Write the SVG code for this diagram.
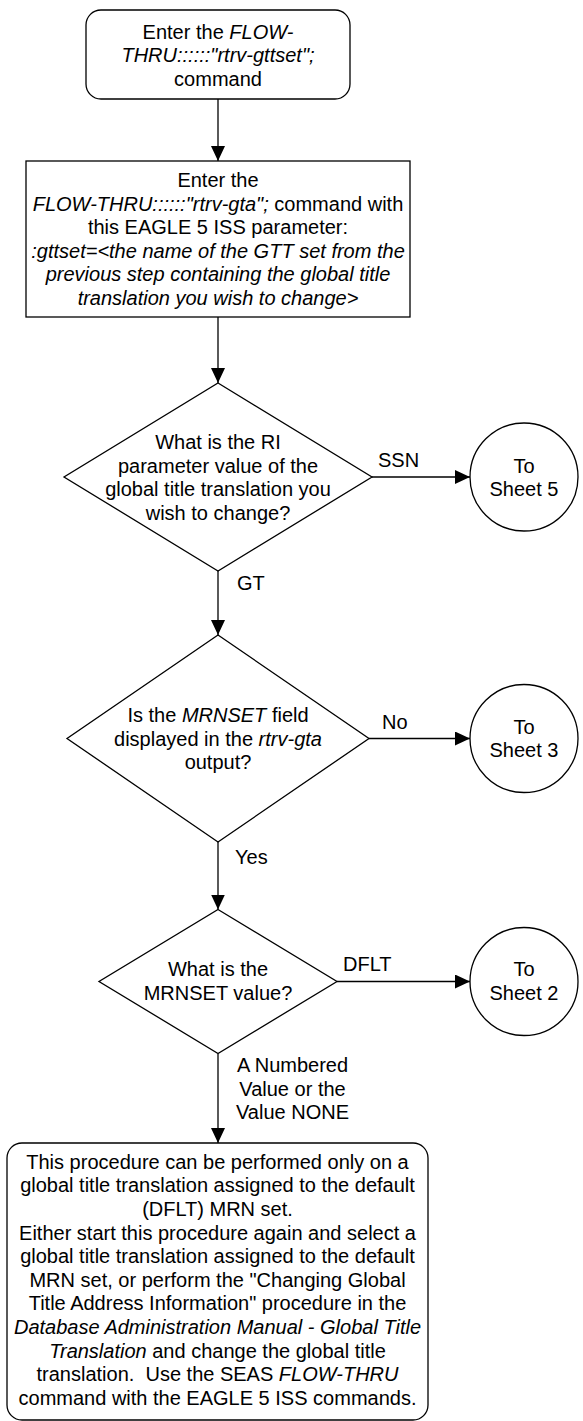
<svg xmlns="http://www.w3.org/2000/svg" width="583" height="1421" viewBox="0 0 583 1421">
<style>
.n{fill:#fff;stroke:#000;stroke-width:1.3}
.c{fill:none;stroke:#000;stroke-width:1.3}
text{font-family:"Liberation Sans",Arial,sans-serif;font-size:20px;fill:#000}
.m{text-anchor:middle}
.i{font-style:italic}
</style>
<defs>
<marker id="ah" markerUnits="userSpaceOnUse" markerWidth="15" markerHeight="14" refX="15" refY="7" orient="auto">
<path d="M0,0 L15,7 L0,14 z" fill="#000"/>
</marker>
</defs>
<rect width="583" height="1421" fill="#fff"/>
<g id="connectors">
<line class="c" x1="218" y1="99" x2="218" y2="161" marker-end="url(#ah)"/>
<line class="c" x1="218" y1="317" x2="218" y2="383" marker-end="url(#ah)"/>
<line class="c" x1="372" y1="477" x2="470" y2="477" marker-end="url(#ah)"/>
<line class="c" x1="218" y1="571" x2="218" y2="635" marker-end="url(#ah)"/>
<line class="c" x1="369" y1="738.5" x2="470" y2="738.5" marker-end="url(#ah)"/>
<line class="c" x1="218" y1="842" x2="218" y2="909.5" marker-end="url(#ah)"/>
<line class="c" x1="337" y1="981.5" x2="470" y2="981.5" marker-end="url(#ah)"/>
<line class="c" x1="218" y1="1053.5" x2="218" y2="1143" marker-end="url(#ah)"/>
<text x="378" y="467">SSN</text>
<text x="237" y="590">GT</text>
<text x="382" y="729">No</text>
<text x="235" y="864">Yes</text>
<text x="343" y="971">DFLT</text>
<text class="m" x="292.5" y="1072">A Numbered</text>
<text class="m" x="292.5" y="1095.6">Value or the</text>
<text class="m" x="292.5" y="1119.2">Value NONE</text>
</g>
<g id="start">
<rect class="n" x="86" y="10" width="264" height="89" rx="15"/>
<text class="m" x="218" y="38.7">Enter the <tspan class="i">FLOW-</tspan></text>
<text class="m i" x="218" y="62.3">THRU::::::"rtrv-gttset";</text>
<text class="m" x="218" y="85.9">command</text>
</g>
<g id="rtrv-gta">
<rect class="n" x="26" y="161" width="384" height="156"/>
<text class="m" x="218" y="187">Enter the</text>
<text class="m" x="218" y="210.6"><tspan class="i">FLOW-THRU::::::"rtrv-gta";</tspan> command with</text>
<text class="m" x="218" y="234.2">this EAGLE 5 ISS parameter:</text>
<text class="m i" x="218" y="257.8">:gttset=&lt;the name of the GTT set from the</text>
<text class="m i" x="218" y="281.4">previous step containing the global title</text>
<text class="m i" x="218" y="305">translation you wish to change&gt;</text>
</g>
<g id="ri-decision">
<polygon class="n" points="218,383 372,477 218,571 64,477"/>
<text class="m" x="218" y="449">What is the RI</text>
<text class="m" x="218" y="472.6">parameter value of the</text>
<text class="m" x="218" y="496.2">global title translation you</text>
<text class="m" x="218" y="519.8">wish to change?</text>
</g>
<g id="sheet5">
<circle class="n" cx="524" cy="477" r="54"/>
<text class="m" x="524" y="472.7">To</text>
<text class="m" x="524" y="496.3">Sheet 5</text>
</g>
<g id="mrnset-decision">
<polygon class="n" points="218,635 369,738.5 218,842 67,738.5"/>
<text class="m" x="218" y="722">Is the <tspan class="i">MRNSET</tspan> field</text>
<text class="m" x="218" y="745.6">displayed in the <tspan class="i">rtrv-gta</tspan></text>
<text class="m" x="218" y="769.2">output?</text>
</g>
<g id="sheet3">
<circle class="n" cx="524" cy="738.5" r="54"/>
<text class="m" x="524" y="733.7">To</text>
<text class="m" x="524" y="757.3">Sheet 3</text>
</g>
<g id="mrnset-value">
<polygon class="n" points="218,909.5 337,981.5 218,1053.5 99,981.5"/>
<text class="m" x="218" y="976.2">What is the</text>
<text class="m" x="218" y="999.8">MRNSET value?</text>
</g>
<g id="sheet2">
<circle class="n" cx="524" cy="981.5" r="54"/>
<text class="m" x="524" y="976.3">To</text>
<text class="m" x="524" y="999.9">Sheet 2</text>
</g>
<g id="end">
<rect class="n" x="7" y="1143" width="421" height="277" rx="15"/>
<text class="m" x="217.5" y="1168.7">This procedure can be performed only on a</text>
<text class="m" x="217.5" y="1192.3">global title translation assigned to the default</text>
<text class="m" x="217.5" y="1215.9">(DFLT) MRN set.</text>
<text class="m" x="217.5" y="1239.5">Either start this procedure again and select a</text>
<text class="m" x="217.5" y="1263.1">global title translation assigned to the default</text>
<text class="m" x="217.5" y="1286.7">MRN set, or perform the "Changing Global</text>
<text class="m" x="217.5" y="1310.3">Title Address Information" procedure in the</text>
<text class="m i" x="217.5" y="1333.9">Database Administration Manual - Global Title</text>
<text class="m" x="217.5" y="1357.5"><tspan class="i">Translation</tspan> and change the global title</text>
<text class="m" x="217.5" y="1381.1" xml:space="preserve">translation.  Use the SEAS <tspan class="i">FLOW-THRU</tspan></text>
<text class="m" x="217.5" y="1404.7">command with the EAGLE 5 ISS commands.</text>
</g>
</svg>
